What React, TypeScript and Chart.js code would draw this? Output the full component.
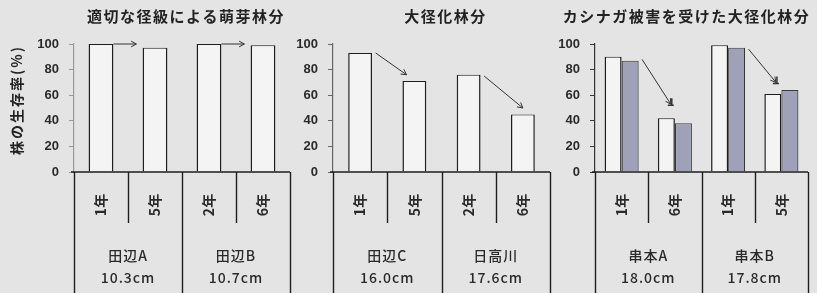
import React, { useEffect, useRef } from "react";
import { Chart, registerables } from "chart.js";
Chart.register(...registerables);

// ---------- data ----------
const panel1Title = "適切な径級による萌芽林分";
const panel2Title = "大径化林分";
const panel3Title = "カシナガ被害を受けた大径化林分";
const yAxisTitle = "株の生存率(%)";

const p1Years = ["1年", "5年", "2年", "6年"];
const p1Groups = [["田辺A", "10.3cm"], ["田辺B", "10.7cm"]];
const p1Values = [100, 97, 100, 99];

const p2Years = ["1年", "5年", "2年", "6年"];
const p2Groups = [["田辺C", "16.0cm"], ["日高川", "17.6cm"]];
const p2Values = [93, 71, 76, 45];

const p3Years = ["1年", "6年", "1年", "5年"];
const p3Groups = [["串本A", "18.0cm"], ["串本B", "17.8cm"]];
const p3ValuesWhite = [90, 42, 99, 61];
const p3ValuesGray = [87, 38, 97, 64];

const yMin = 0;
const yMax = 100;
const yStep = 20;

// arrows: from category -> to category, start value / tip value
const p1Arrows = [
  { from: 0, to: 1, fromVal: 100, toVal: 100, fromPos: 1.0, toPos: -0.25, head: "open" },
  { from: 2, to: 3, fromVal: 100, toVal: 100, fromPos: 1.0, toPos: -0.25, head: "open" },
];
const p2Arrows = [
  { from: 0, to: 1, fromVal: 93, toVal: 76, fromPos: 1.15, toPos: 0.17, head: "open" },
  { from: 2, to: 3, fromVal: 75, toVal: 50, fromPos: 1.15, toPos: 0.5, head: "open" },
];
const p3Arrows = [
  { from: 0, to: 1, fromVal: 88, toVal: 53, fromPos: 1.1, toPos: 0.38, head: "bar" },
  { from: 2, to: 3, fromVal: 96, toVal: 70, fromPos: 1.1, toPos: 0.34, head: "bar" },
];

// ---------- styles ----------
const BG = "#e4e4e4";
const WHITE_BAR = "#f4f4f4";
const GRAY_BAR = "#9ea1b7";
const INK = "#1e1e1e";
const JP = "'Noto Sans CJK JP', 'Noto Sans', sans-serif";

function groupExtent(chart: any, i: number) {
  let l = Infinity;
  let r = -Infinity;
  chart.data.datasets.forEach((_: any, d: number) => {
    const el: any = chart.getDatasetMeta(d).data[i];
    if (!el) return;
    l = Math.min(l, el.x - el.width / 2);
    r = Math.max(r, el.x + el.width / 2);
  });
  return { l, r };
}

const decorPlugin = {
  id: "decor",
  afterDraw(chart: any, _args: any, opts: any) {
    const { ctx, chartArea } = chart;
    const x = chart.scales.x;
    const y = chart.scales.y;
    const n = opts.years.length;
    const step = (chartArea.right - chartArea.left) / n;
    const bottom = chartArea.bottom;
    const H = chart.height;
    ctx.save();

    // x axis line
    ctx.strokeStyle = INK;
    ctx.lineWidth = 1.5;
    ctx.beginPath();
    ctx.moveTo(chartArea.left - 3, bottom);
    ctx.lineTo(chartArea.right, bottom);
    ctx.stroke();

    // table lines
    ctx.lineWidth = 1.4;
    for (let k = 0; k <= n; k++) {
      const px = Math.round(chartArea.left + k * step) + 0.5;
      ctx.beginPath();
      ctx.moveTo(px, bottom);
      ctx.lineTo(px, k % 2 === 0 ? H : bottom + 51);
      ctx.stroke();
    }

    // year labels (rotated)
    ctx.fillStyle = "#2a2a2a";
    ctx.font = `bold 14px ${JP}`;
    ctx.textAlign = "center";
    ctx.textBaseline = "middle";
    opts.years.forEach((t: string, i: number) => {
      const cx = x.getPixelForValue(i);
      ctx.save();
      ctx.translate(cx, bottom + 33);
      ctx.rotate(-Math.PI / 2);
      ctx.fillText(t, 0, 0);
      ctx.restore();
    });

    // group labels
    ctx.font = `500 14px ${JP}`;
    (ctx as any).letterSpacing = "1px";
    opts.groups.forEach((g: string[], gi: number) => {
      const cx = chartArea.left + (gi * 2 + 1) * step;
      ctx.fillText(g[0], cx, bottom + 84);
      ctx.fillText(g[1], cx, bottom + 106);
    });

    // title
    ctx.font = `bold 15px ${JP}`;
    (ctx as any).letterSpacing = "1.5px";
    ctx.fillStyle = "#222";
    ctx.fillText(opts.title, (chartArea.left + chartArea.right) / 2 + opts.titleShift, 16);

    // y title
    if (opts.yTitle) {
      ctx.font = `bold 14px ${JP}`;
      (ctx as any).letterSpacing = "2px";
      ctx.save();
      ctx.translate(17, 100);
      ctx.rotate(-Math.PI / 2);
      ctx.fillText(opts.yTitle, 0, 0);
      ctx.restore();
    }
    (ctx as any).letterSpacing = "0px";

    // arrows
    ctx.strokeStyle = "#333";
    ctx.lineWidth = 1;
    opts.arrows.forEach((a: any) => {
      const f = groupExtent(chart, a.from);
      const t = groupExtent(chart, a.to);
      const x1 = f.l + (f.r - f.l) * a.fromPos;
      const y1 = y.getPixelForValue(a.fromVal);
      const x2 = t.l + (t.r - t.l) * a.toPos;
      const y2 = y.getPixelForValue(a.toVal);
      ctx.beginPath();
      ctx.moveTo(x1, y1);
      ctx.lineTo(x2, y2);
      ctx.stroke();
      const ang = Math.atan2(y2 - y1, x2 - x1);
      const hl = 6;
      ctx.beginPath();
      ctx.moveTo(x2 - hl * Math.cos(ang - 0.5), y2 - hl * Math.sin(ang - 0.5));
      ctx.lineTo(x2, y2);
      ctx.lineTo(x2 - hl * Math.cos(ang + 0.5), y2 - hl * Math.sin(ang + 0.5));
      ctx.stroke();
      if (a.head === "bar") {
        ctx.lineWidth = 1.5;
        ctx.beginPath();
        ctx.moveTo(x2 - 3, y2 + 1);
        ctx.lineTo(x2 + 3, y2 + 1);
        ctx.moveTo(x2 + 1, y2 - 6);
        ctx.lineTo(x2 + 1, y2 + 1);
        ctx.stroke();
        ctx.lineWidth = 1;
      }
    });
    ctx.restore();
  },
};

type PanelProps = {
  left: number;
  width: number;
  axisW: number;
  padRight: number;
  years: string[];
  groups: string[][];
  datasets: any[];
  catPct: number;
  barPct: number;
  title: string;
  titleShift: number;
  yTitle?: string;
  arrows: any[];
  axisColor: string;
};

function Panel(p: PanelProps) {
  const ref = useRef<HTMLCanvasElement | null>(null);
  useEffect(() => {
    if (!ref.current) return;
    const chart = new Chart(ref.current, {
      type: "bar",
      data: { labels: p.years, datasets: p.datasets },
      options: {
        responsive: false,
        animation: false,
        devicePixelRatio: 1,
        layout: { padding: { left: 0, right: p.padRight, top: 44, bottom: 121 } },
        datasets: { bar: { categoryPercentage: p.catPct, barPercentage: p.barPct } } as any,
        plugins: {
          legend: { display: false },
          tooltip: { enabled: false },
          decor: {
            years: p.years,
            groups: p.groups,
            title: p.title,
            titleShift: p.titleShift,
            yTitle: p.yTitle,
            arrows: p.arrows,
          },
        } as any,
        scales: {
          x: { display: false },
          y: {
            min: yMin,
            max: yMax,
            ticks: {
              stepSize: yStep,
              color: "#2a2a2a",
              padding: 10,
              font: { size: 13, weight: "bold", family: "'Liberation Sans', Arial, sans-serif" },
            },
            grid: { drawOnChartArea: false, tickLength: 5, color: p.axisColor },
            border: { display: true, color: p.axisColor, width: 1.2 },
            afterFit: (s: any) => {
              s.width = p.axisW;
            },
          },
        },
      },
      plugins: [decorPlugin],
    });
    return () => chart.destroy();
  }, []);
  return (
    <canvas
      ref={ref}
      width={p.width}
      height={293}
      style={{ position: "absolute", left: p.left, top: 0, width: p.width, height: 293 }}
    />
  );
}

const whiteStyle = {
  backgroundColor: WHITE_BAR,
  borderColor: INK,
  borderWidth: { left: 1.5, right: 1.5, top: 1, bottom: 0 },
  borderSkipped: false,
};

export default function App() {
  return (
    <div
      style={{
        position: "absolute",
        left: 0,
        top: 0,
        width: 817,
        height: 293,
        background: BG,
        overflow: "hidden",
      }}
    >
      <Panel
        left={0}
        width={292}
        axisW={74}
        padRight={2}
        years={p1Years}
        groups={p1Groups}
        datasets={[{ data: p1Values, ...whiteStyle }]}
        catPct={1}
        barPct={0.46}
        title={panel1Title}
        titleShift={4}
        yTitle={yAxisTitle}
        arrows={p1Arrows}
        axisColor="#9a9a9a"
      />
      <Panel
        left={290}
        width={262}
        axisW={43}
        padRight={2}
        years={p2Years}
        groups={p2Groups}
        datasets={[{ data: p2Values, ...whiteStyle }]}
        catPct={1}
        barPct={0.44}
        title={panel2Title}
        titleShift={4}
        arrows={p2Arrows}
        axisColor="#666"
      />
      <Panel
        left={550}
        width={267}
        axisW={45}
        padRight={9}
        years={p3Years}
        groups={p3Groups}
        datasets={[
          { data: p3ValuesWhite, ...whiteStyle },
          {
            data: p3ValuesGray,
            backgroundColor: GRAY_BAR,
            borderColor: "#3a3a3a",
            borderWidth: { left: 1.2, right: 1.2, top: 1, bottom: 0 },
            borderSkipped: false,
          },
        ]}
        catPct={0.64}
        barPct={1}
        title={panel3Title}
        titleShift={-15}
        arrows={p3Arrows}
        axisColor="#333"
      />
    </div>
  );
}
